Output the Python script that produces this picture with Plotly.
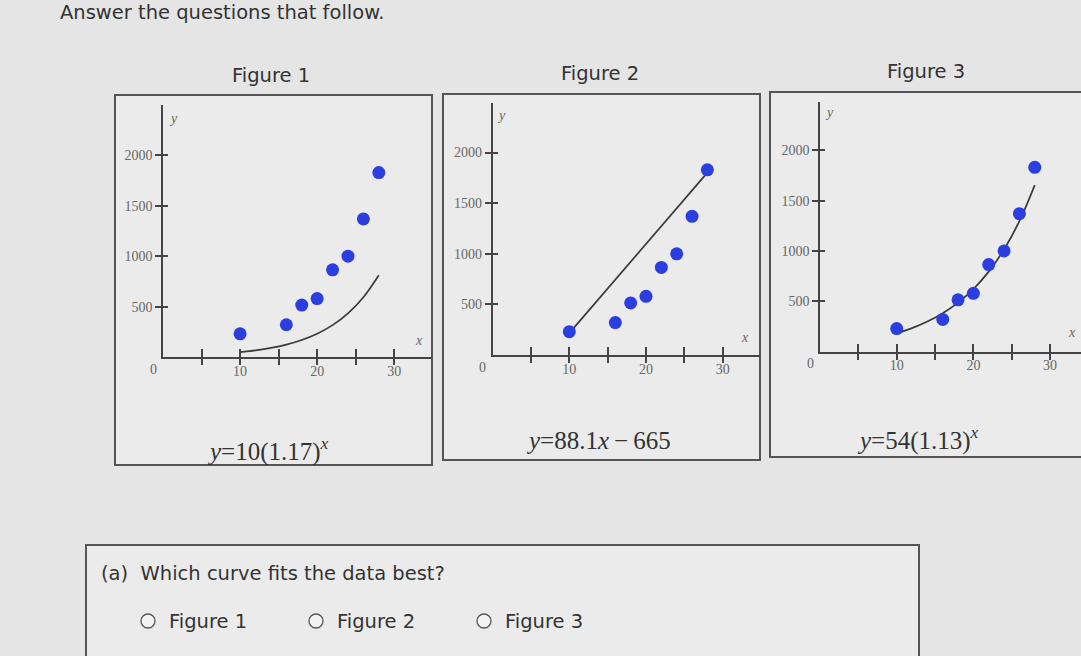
import plotly.graph_objects as go

# ---- data ----
data_x = [10, 16, 18, 20, 22, 24, 26, 28]
data_y = [230, 320, 515, 580, 865, 1000, 1370, 1830]

# fitted curves (values of the curves drawn in each figure)
curve_x = [10, 12, 14, 16, 18, 20, 22, 24, 26, 28]
curve1_y = [48, 66, 90, 123, 169, 231, 316, 433, 593, 811]          # y = 10(1.17)^x
line2_x = [10, 28]
line2_y = [216, 1802]                                                 # y = 88.1x - 665
curve3_y = [183, 234, 299, 382, 487, 622, 795, 1015, 1296, 1654]     # y = 54(1.13)^x

x_major = [10, 20, 30]
x_minor = [5, 15, 25]
y_tickvals = [500, 1000, 1500, 2000]

fig_titles = ["Figure 1", "Figure 2", "Figure 3"]
equations = ["<i>y</i>=10(1.17)<sup><i>x</i></sup>",
             "<i>y</i>=88.1<i>x</i>\u2009\u2212\u2009665",
             "<i>y</i>=54(1.13)<sup><i>x</i></sup>"]
options = ["Figure 1", "Figure 2", "Figure 3"]

W, H = 1081, 656
def px(v): return v / W
def py(v): return 1 - v / H

panels = [
    dict(x0=163, x1=432, yb=357, yt=105, xmax=34.9, ymax=2500,
         box=(115, 95, 432, 465), title=(271, 75), eq=(268, 449), ylab=(173, 118), xlab=(419, 340)),
    dict(x0=492.6, x1=760, yb=355, yt=103, xmax=34.86, ymax=2490,
         box=(443, 94, 760, 460), title=(600, 73), eq=(598, 440), ylab=(501, 115), xlab=(745, 337)),
    dict(x0=820, x1=1081, yb=351.7, yt=101.7, xmax=34.03, ymax=2482,
         box=(770, 92, 1085, 457), title=(926, 71), eq=(918, 438), ylab=(829, 112), xlab=(1072, 333)),
]

BG = "#e5e5e5"
PANEL = "#ebebeb"
BORDER = "#555555"
AX = "#444444"
LBL = "#666666"
BLUE = "#2b3fe0"
CURVE = "#3a3a3a"
TXT = "#333333"
SERIF = "Liberation Serif"
SANS = "DejaVu Sans"

fig = go.Figure()
layout = dict(
    width=W, height=H, margin=dict(l=0, r=0, t=0, b=0),
    paper_bgcolor=BG, plot_bgcolor="rgba(0,0,0,0)",
    showlegend=False,
)
shapes = []
annotations = []

def ann(text, x, y, size, family=SANS, color=TXT, xanchor="center"):
    annotations.append(dict(text=text, x=px(x), y=py(y), xref="paper", yref="paper",
                            xanchor=xanchor, yanchor="middle", showarrow=False,
                            font=dict(family=family, size=size, color=color)))

curves = [(curve_x, curve1_y), (line2_x, line2_y), (curve_x, curve3_y)]

for i, p in enumerate(panels):
    n = i + 1
    m = i + 4
    xs = "" if n == 1 else str(n)
    ys = xs
    xd = [px(p["x0"]), min(px(p["x1"]), 1.0)]
    yd = [py(p["yb"]), py(p["yt"])]
    axfont = dict(family=SERIF, size=14, color=LBL)
    tick = dict(tickwidth=1.5, tickcolor=AX)
    layout["xaxis" + xs] = dict(domain=xd, range=[0, p["xmax"]], anchor="y" + ys,
                                showline=True, linecolor=AX, linewidth=1.5,
                                ticks="inside", ticklen=8, **tick,
                                tickvals=x_major, tickfont=axfont,
                                minor=dict(tickvals=x_minor, ticks="inside", ticklen=8,
                                           tickwidth=1.5, tickcolor=AX, showgrid=False),
                                showgrid=False, zeroline=False, fixedrange=True)
    layout["yaxis" + ys] = dict(domain=yd, range=[0, p["ymax"]], anchor="x" + xs,
                                showline=True, linecolor=AX, linewidth=1.5,
                                ticks="outside", ticklen=6, **tick,
                                tickvals=y_tickvals, tickfont=axfont,
                                showgrid=False, zeroline=False, fixedrange=True)
    # overlay axes so that the ticks cross the axis lines
    layout["xaxis" + str(m)] = dict(domain=xd, range=[0, p["xmax"]], anchor="y" + ys,
                                    overlaying="x" + xs, showline=False,
                                    ticks="outside", ticklen=7, **tick,
                                    tickvals=x_major, showticklabels=False,
                                    minor=dict(tickvals=x_minor, ticks="outside", ticklen=7,
                                               tickwidth=1.5, tickcolor=AX, showgrid=False),
                                    showgrid=False, zeroline=False, fixedrange=True)
    layout["yaxis" + str(m)] = dict(domain=yd, range=[0, p["ymax"]], anchor="x" + xs,
                                    overlaying="y" + ys, showline=False,
                                    ticks="inside", ticklen=5, **tick,
                                    tickvals=y_tickvals, showticklabels=False,
                                    showgrid=False, zeroline=False, fixedrange=True)
    # empty traces so the overlay axes are drawn
    fig.add_trace(go.Scatter(x=[None], y=[None], xaxis="x" + str(m), yaxis="y" + ys,
                             hoverinfo="skip", showlegend=False))
    fig.add_trace(go.Scatter(x=[None], y=[None], xaxis="x" + xs, yaxis="y" + str(m),
                             hoverinfo="skip", showlegend=False))

    cx, cy = curves[i]
    fig.add_trace(go.Scatter(x=cx, y=cy, mode="lines", xaxis="x" + xs, yaxis="y" + ys,
                             line=dict(color=CURVE, width=1.7, shape="spline"),
                             hoverinfo="skip"))
    fig.add_trace(go.Scatter(x=data_x, y=data_y, mode="markers", xaxis="x" + xs, yaxis="y" + ys,
                             marker=dict(color=BLUE, size=13, line=dict(width=0))))

    bx0, by0, bx1, by1 = p["box"]
    shapes.append(dict(type="rect", xref="paper", yref="paper",
                       x0=px(bx0), x1=px(bx1), y0=py(by1), y1=py(by0),
                       line=dict(color=BORDER, width=2), fillcolor=PANEL, layer="below"))
    ann(fig_titles[i], *p["title"], 19.5)
    ann(equations[i], *p["eq"], 25, family=SERIF)
    ann("<i>y</i>", *p["ylab"], 14, family=SERIF, color=LBL)
    ann("<i>x</i>", *p["xlab"], 14, family=SERIF, color=LBL)
    ann("0", p["x0"] - 10, p["yb"] + 12, 14, family=SERIF, color=LBL)

# header
ann("Answer the questions that follow.", 58, 12, 19.5, xanchor="left")

# question box
shapes.append(dict(type="rect", xref="paper", yref="paper",
                   x0=px(86), x1=px(919), y0=py(660), y1=py(545),
                   line=dict(color=BORDER, width=2), fillcolor=PANEL, layer="below"))
ann("(a)  Which curve fits the data best?", 99, 573, 19.5, xanchor="left")
opt_x = [148, 316, 484]
for ox, label in zip(opt_x, options):
    shapes.append(dict(type="circle", xref="paper", yref="paper",
                       x0=px(ox - 7), x1=px(ox + 7), y0=py(628), y1=py(614),
                       line=dict(color="#555555", width=1.3), fillcolor="#f4f4f4"))
    ann(label, ox + 19, 621, 19.5, xanchor="left")

layout["shapes"] = shapes
layout["annotations"] = annotations
fig.update_layout(**layout)
fig.write_html("out.html")
